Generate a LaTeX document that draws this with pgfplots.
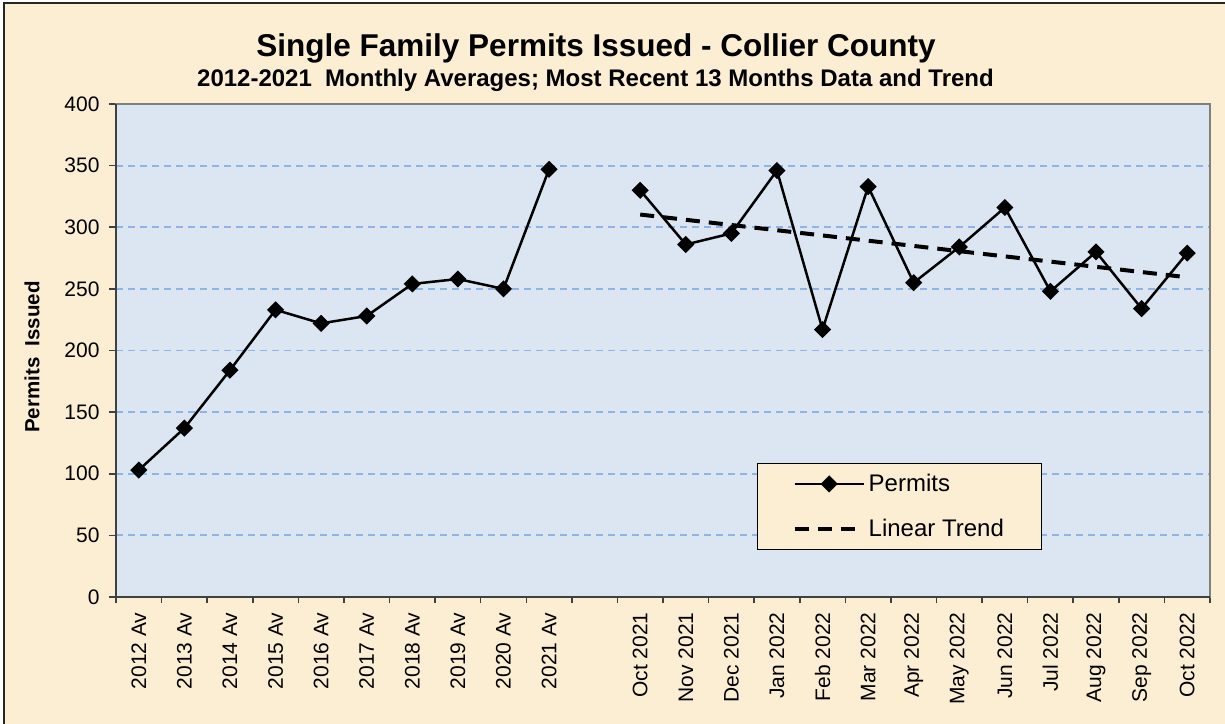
\documentclass[border=0pt]{standalone}
\usepackage{pgfplots}
\pgfplotsset{compat=1.18}
\usepackage{fontspec}
\setmainfont{Liberation Sans}
\definecolor{parch}{RGB}{252,238,210}
\definecolor{plotbg}{RGB}{220,230,242}
\definecolor{gridc}{RGB}{141,180,226}
\definecolor{framegray}{RGB}{128,128,128}
\definecolor{axisdark}{RGB}{64,64,64}
\begin{document}
\begin{tikzpicture}
\useasboundingbox (0,0) rectangle (1225pt,723pt);
\clip (0,0) rectangle (1225pt,723pt);
\fill[white] (0,0) rectangle (1225pt,723pt);
\fill[parch] (4pt,-10pt) rectangle (1240pt,720pt);
\draw[line width=1.2pt, black!85] (4pt,-10pt) |- (1240pt,720pt);
\node[anchor=base, font=\bfseries\fontsize{31.5}{36}\selectfont] at (596pt,666pt) {Single Family Permits Issued - Collier County};
\node[anchor=base, font=\bfseries\fontsize{24}{28}\selectfont] at (595.5pt,636pt) {2012-2021\ \ Monthly Averages; Most Recent 13 Months Data and Trend};
\node[rotate=90, font=\bfseries\fontsize{20.5}{24}\selectfont] at (32pt,366pt) {Permits\ \ Issued};
\begin{axis}[
  at={(116pt,126pt)}, anchor=south west,
  scale only axis, width=1094pt, height=493pt,
  xmin=-0.5, xmax=23.5, ymin=0, ymax=400,
  axis background/.style={fill=plotbg},
  axis line style={draw=framegray, line width=2.2pt},
  xtick={0,...,23},
  xticklabels={2012 Av,2013 Av,2014 Av,2015 Av,2016 Av,2017 Av,2018 Av,2019 Av,2020 Av,2021 Av,,Oct 2021,Nov 2021,Dec 2021,Jan 2022,Feb 2022,Mar 2022,Apr 2022,May 2022,Jun 2022,Jul 2022,Aug 2022,Sep 2022,Oct 2022},
  minor xtick={-0.5,0.5,...,23.5},
  ytick={0,50,...,400},
  xtick pos=bottom, ytick pos=left,
  tick align=outside,
  xtick style={draw=none},
  minor x tick style={draw=axisdark, line width=1.5pt},
  minor tick length=6pt,
  ytick style={draw=axisdark, line width=1.5pt},
  major tick length=7pt,
  ymajorgrids,
  grid style={draw=gridc, line width=1.8pt, dash pattern=on 7pt off 5pt},
  x tick label style={rotate=90, anchor=east, font=\fontsize{21}{25}\selectfont, xshift=-5pt},
  y tick label style={font=\fontsize{21}{25}\selectfont, xshift=-6pt},
  /pgf/number format/assume math mode=true,
  legend image code/.code={\draw[mark repeat=2,mark phase=2,#1] plot coordinates {(0pt,0pt) (34.5pt,0pt) (69pt,0pt)};},
  legend style={at={(rel axis cs:0.586,0.272)}, anchor=north west, draw=black, line width=1.2pt, fill=parch,
    font=\fontsize{24}{28}\selectfont, inner xsep=35pt, inner ysep=8pt, row sep=20pt,
    nodes={inner sep=3pt}},
  legend cell align=left,
  clip=false,
]
\addplot[black, line width=2.5pt, mark=square*, mark size=4.8pt, mark options={rotate=45, solid}]
  coordinates {(11,330) (12,286) (13,295) (14,346) (15,217) (16,333) (17,255) (18,284) (19,316) (20,248) (21,280) (22,234) (23,279)};
\addlegendentry{Permits}
\addplot[black, line width=4pt, dash pattern=on 14pt off 9pt]
  coordinates {(11,310.3) (23,259.4)};
\addlegendentry{Linear Trend}
\addplot[black, line width=2.5pt, mark=square*, mark size=4.8pt, mark options={rotate=45, solid}, forget plot]
  coordinates {(0,103) (1,137) (2,184) (3,233) (4,222) (5,228) (6,254) (7,258) (8,250) (9,347)};
\draw[axisdark, line width=2.2pt] (rel axis cs:0,1) -- (rel axis cs:0,0) -- (rel axis cs:1,0);
\end{axis}
\end{tikzpicture}
\end{document}
